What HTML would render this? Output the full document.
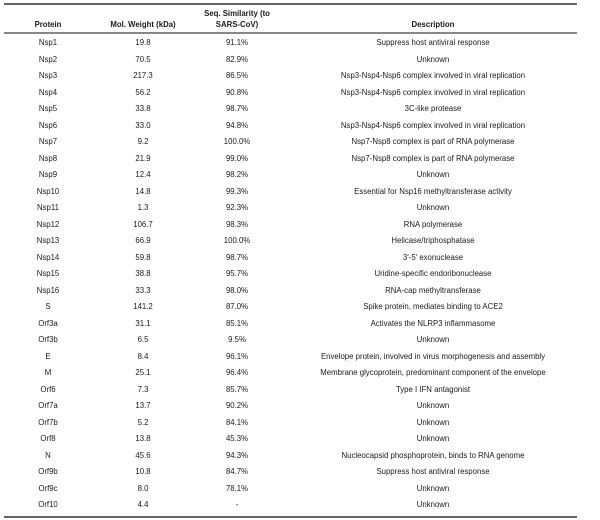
<!DOCTYPE html>
<html><head><meta charset="utf-8"><style>
body{margin:0;width:600px;height:520px;background:#fff;position:relative;font-family:"Liberation Sans",Arial,sans-serif;font-size:7.8px;color:#1a1a1a;overflow:hidden}
.l{position:absolute;left:4px;width:573px;background:#666}
.c{position:absolute;transform:translateX(-50%);white-space:nowrap;line-height:9px}
.h{font-weight:bold}
</style></head><body>
<div class="l" style="top:3px;height:2px"></div>
<div class="l" style="top:32px;height:2px;background:#888"></div>
<div class="l" style="top:516px;height:2px"></div>
<div class="c h" style="left:48px;top:20px">Protein</div>
<div class="c h" style="left:143px;top:20px">Mol. Weight (kDa)</div>
<div class="c h" style="left:237px;top:9px">Seq. Similarity (to</div>
<div class="c h" style="left:237px;top:20px">SARS-CoV)</div>
<div class="c h" style="left:433px;top:20px">Description</div>
<div id="rows"></div>
<script>
var d=[["Nsp1","19.8","91.1%","Suppress host antiviral response"],["Nsp2","70.5","82.9%","Unknown"],["Nsp3","217.3","86.5%","Nsp3-Nsp4-Nsp6 complex involved in viral replication"],["Nsp4","56.2","90.8%","Nsp3-Nsp4-Nsp6 complex involved in viral replication"],["Nsp5","33.8","98.7%","3C-like protease"],["Nsp6","33.0","94.8%","Nsp3-Nsp4-Nsp6 complex involved in viral replication"],["Nsp7","9.2","100.0%","Nsp7-Nsp8 complex is part of RNA polymerase"],["Nsp8","21.9","99.0%","Nsp7-Nsp8 complex is part of RNA polymerase"],["Nsp9","12.4","98.2%","Unknown"],["Nsp10","14.8","99.3%","Essential for Nsp16 methyltransferase activity"],["Nsp11","1.3","92.3%","Unknown"],["Nsp12","106.7","98.3%","RNA polymerase"],["Nsp13","66.9","100.0%","Helicase/triphosphatase"],["Nsp14","59.8","98.7%","3'-5' exonuclease"],["Nsp15","38.8","95.7%","Uridine-specific endoribonuclease"],["Nsp16","33.3","98.0%","RNA-cap methyltransferase"],["S","141.2","87.0%","Spike protein, mediates binding to ACE2"],["Orf3a","31.1","85.1%","Activates the NLRP3 inflammasome"],["Orf3b","6.5","9.5%","Unknown"],["E","8.4","96.1%","Envelope protein, involved in virus morphogenesis and assembly"],["M","25.1","96.4%","Membrane glycoprotein, predominant component of the envelope"],["Orf6","7.3","85.7%","Type I IFN antagonist"],["Orf7a","13.7","90.2%","Unknown"],["Orf7b","5.2","84.1%","Unknown"],["Orf8","13.8","45.3%","Unknown"],["N","45.6","94.3%","Nucleocapsid phosphoprotein, binds to RNA genome"],["Orf9b","10.8","84.7%","Suppress host antiviral response"],["Orf9c","8.0","78.1%","Unknown"],["Orf10","4.4","-","Unknown"]];
var x=[48,143,237,433],h="";
d.forEach(function(r,i){var y=38+i*16.5;r.forEach(function(t,j){h+='<div class="c" style="left:'+x[j]+'px;top:'+y+'px">'+t+'</div>';});});
document.getElementById("rows").innerHTML=h;
</script>
</body></html>
